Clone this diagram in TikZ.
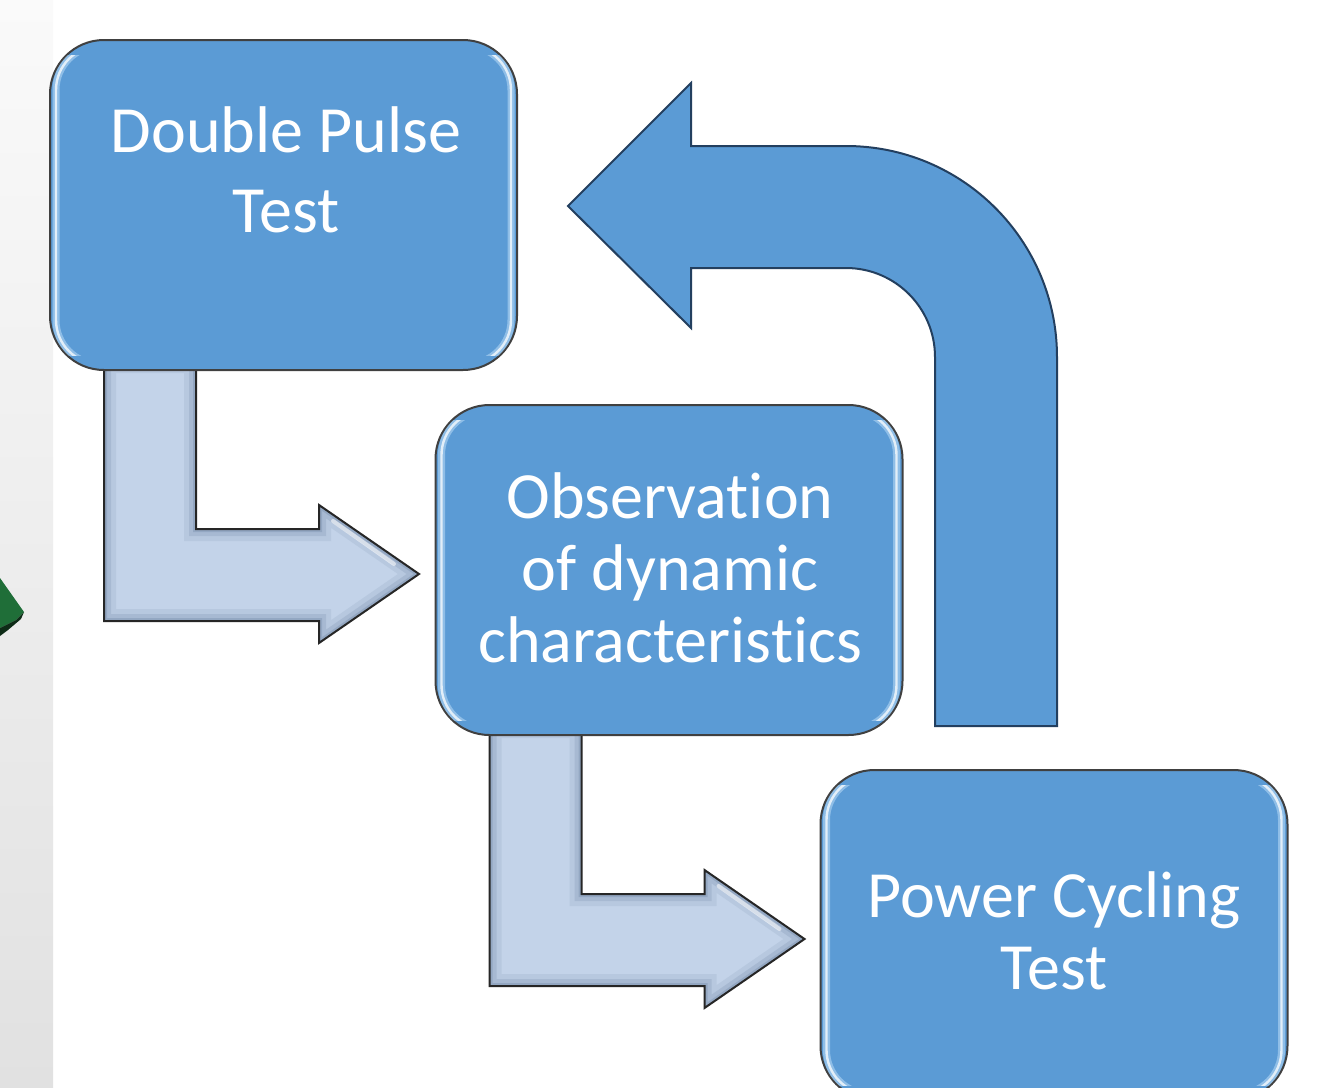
\documentclass[tikz,border=0pt]{standalone}
\usepackage{fontspec}
\setmainfont{Carlito}[Ligatures=NoCommon]
\usetikzlibrary{calc,backgrounds}

\definecolor{stepblue}{HTML}{5B9BD5}
\definecolor{stepedge}{HTML}{404040}
\definecolor{glint}{HTML}{CFEAFF}
\definecolor{elbowfill}{HTML}{C3D3E9}
\definecolor{elbowshade}{HTML}{7088A6}
\definecolor{elbowedge}{HTML}{262626}
\definecolor{loopedge}{HTML}{233F5F}
\definecolor{stripTop}{HTML}{FAFAFA}
\definecolor{stripBottom}{HTML}{E1E1E1}
\definecolor{leafgreen}{HTML}{1F6E38}
\definecolor{leafdark}{HTML}{0E2B17}

% outline of the bent block arrow, measured from the lower-left corner of its source box
\newcommand\elbowpath{(55,-10) -- (147,-10) -- (147,158) -- (270,158) -- (270,134)
  -- (370,203) -- (270,272) -- (270,250) -- (55,250) -- cycle}

% light bevel lines down both sides of a step box
\newcommand\boxglint[1]{%
  \foreach \band in {west,east}{%
    \begin{scope}
      \clip ($(#1.north \band)+(-34,16)$) rectangle ($(#1.south \band)+(34,-16)$);
      \draw[glint, line width=3.5pt, opacity=0.45, rounded corners=22pt]
        ($(#1.north west)+(7,7)$) rectangle ($(#1.south east)+(-7,-7)$);
      \draw[white, line width=1.2pt, opacity=0.75, rounded corners=22pt]
        ($(#1.north west)+(7,7)$) rectangle ($(#1.south east)+(-7,-7)$);
    \end{scope}}}

\tikzset{
  stepbox/.style={draw=stepedge, line width=1pt, fill=stepblue, rounded corners=27pt,
    minimum width=233.5pt, minimum height=165pt, inner sep=0pt},
  steptext/.style={text=white, align=center, inner sep=0pt,
    font=\fontsize{33}{36}\selectfont},
  elbow/.pic={
    \fill[elbowfill] \elbowpath;
    \begin{scope}
      \clip \elbowpath;
      \draw[elbowshade, line width=12pt, opacity=0.14] \elbowpath;
      \draw[elbowshade, line width=7pt, opacity=0.22] \elbowpath;
      \draw[elbowshade, line width=3pt, opacity=0.35] \elbowpath;
      % soft light on the upper face of the head
      \draw[white, line width=2pt, opacity=0.55, line cap=round] (284,150) -- (345,193);
    \end{scope}
    \draw[elbowedge, line width=1pt] \elbowpath;
  },
  looparrow/.style={fill=stepblue, draw=loopedge, line width=1pt},
}

\begin{document}
\begin{tikzpicture}[x=0.5pt, y=-0.5pt]
\useasboundingbox (0,0) rectangle (1324,1088);

% the three steps
\node[stepbox] (dpt) at (283.5,205) {};
\node[stepbox] (obs) at (669,570) {};
\node[stepbox] (pct) at (1054,935) {};
\boxglint{dpt}
\boxglint{obs}
\boxglint{pct}

\node[steptext, font=\fontsize{33}{40}\selectfont] (dpt-text) at (286,170) {Double Pulse\\Test};
\node[steptext] (obs-text) at (670,568) {Observation\\of dynamic\\characteristics};
\node[steptext] (pct-text) at (1054,931) {Power Cycling\\Test};

% return arrow from the last step back to the first
\coordinate (bend) at (846,357);
\draw[looparrow] ($(bend)+(89,369)$) -- ($(bend)+(89,0)$)
  arc[start angle=0, end angle=-90, radius=89]
  -- (691,268) -- (691,328) -- (568,206) -- (691,83) -- (691,146)
  -- ($(bend)+(0,-211)$) arc[start angle=-90, end angle=0, radius=211]
  -- ($(bend)+(211,369)$) -- cycle;

\begin{pgfonlayer}{background}
  \fill[white] (0,0) rectangle (1324,1088);
  \shade[top color=stripTop, bottom color=stripBottom] (0,0) rectangle (53,1088);
  % corner of a green board at the page edge
  \fill[leafgreen] (0,578) -- (24,612) -- (16,620) -- (0,628) -- cycle;
  \fill[leafdark] (0,628) -- (16,620) -- (24,612) -- (21,619) -- (8,630) -- (0,636) -- cycle;
  % bent arrows between consecutive steps
  \pic at (dpt.south west) {elbow};
  \pic at (obs.south west) {elbow};
\end{pgfonlayer}
\end{tikzpicture}
\end{document}
